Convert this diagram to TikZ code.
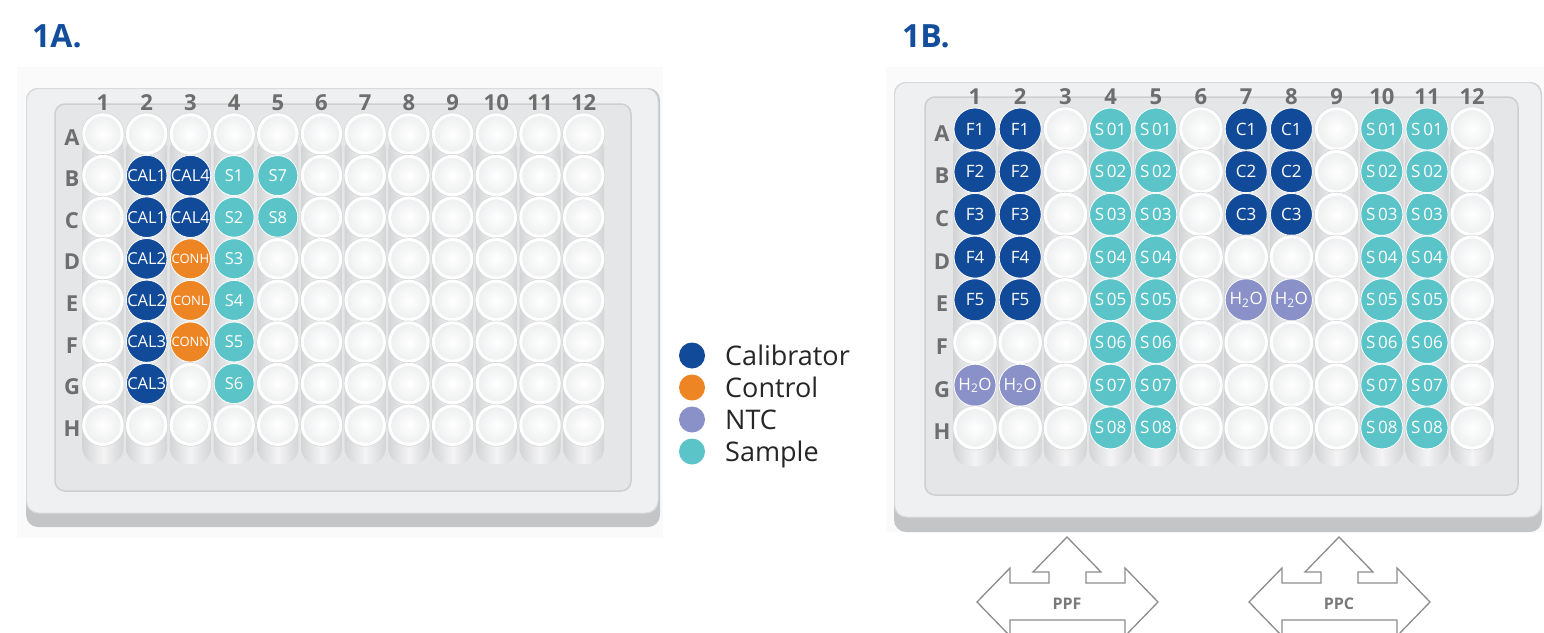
\documentclass[tikz,border=0pt]{standalone}
\usepackage{fontspec}
\setmainfont{Open Sans}
\definecolor{calc}{HTML}{114A98}
\definecolor{conc}{HTML}{EE8524}
\definecolor{ntcc}{HTML}{8A91C8}
\definecolor{smpc}{HTML}{5BC4C8}
\definecolor{titlec}{HTML}{134E9C}
\definecolor{numc}{HTML}{6E6E6E}
\definecolor{imgbg}{HTML}{FAFAFA}
\definecolor{platebase}{HTML}{C4C5C7}
\definecolor{platetop}{HTML}{EFF0F1}
\definecolor{platerim}{HTML}{D9DADC}
\definecolor{trayc}{HTML}{E4E6E8}
\definecolor{trayedge}{HTML}{CDCFD2}
\definecolor{stripmid}{HTML}{F4F4F5}
\definecolor{stripedge}{HTML}{D3D4D6}
\definecolor{wellout}{HTML}{EDEEEF}
\definecolor{wellrim}{HTML}{D6D7D9}
\definecolor{arrowc}{HTML}{8C8C8C}
\definecolor{ppc}{HTML}{7A7A7A}
\newcommand\wellset[5]{\expandafter\gdef\csname wc@#1@#2@#3\endcsname{#4}\expandafter\gdef\csname wt@#1@#2@#3\endcsname{#5}}
\newcommand\confont{\fontsize{13}{13}\selectfont}
% plate 1A contents
\wellset{a}{2}{2}{calc}{CAL1}\wellset{a}{2}{3}{calc}{CAL1}
\wellset{a}{2}{4}{calc}{CAL2}\wellset{a}{2}{5}{calc}{CAL2}
\wellset{a}{2}{6}{calc}{CAL3}\wellset{a}{2}{7}{calc}{CAL3}
\wellset{a}{3}{2}{calc}{CAL4}\wellset{a}{3}{3}{calc}{CAL4}
\wellset{a}{3}{4}{conc}{\confont CONH}\wellset{a}{3}{5}{conc}{\confont CONL}
\wellset{a}{3}{6}{conc}{\confont CONN}
\wellset{a}{4}{2}{smpc}{S1}\wellset{a}{4}{3}{smpc}{S2}\wellset{a}{4}{4}{smpc}{S3}
\wellset{a}{4}{5}{smpc}{S4}\wellset{a}{4}{6}{smpc}{S5}\wellset{a}{4}{7}{smpc}{S6}
\wellset{a}{5}{2}{smpc}{S7}\wellset{a}{5}{3}{smpc}{S8}
% plate 1B contents
\wellset{b}{1}{1}{calc}{F1}\wellset{b}{1}{2}{calc}{F2}\wellset{b}{1}{3}{calc}{F3}
\wellset{b}{1}{4}{calc}{F4}\wellset{b}{1}{5}{calc}{F5}
\wellset{b}{2}{1}{calc}{F1}\wellset{b}{2}{2}{calc}{F2}\wellset{b}{2}{3}{calc}{F3}
\wellset{b}{2}{4}{calc}{F4}\wellset{b}{2}{5}{calc}{F5}
\wellset{b}{1}{7}{ntcc}{H\textsubscript{2}O}\wellset{b}{2}{7}{ntcc}{H\textsubscript{2}O}
\wellset{b}{7}{1}{calc}{C1}\wellset{b}{7}{2}{calc}{C2}\wellset{b}{7}{3}{calc}{C3}
\wellset{b}{8}{1}{calc}{C1}\wellset{b}{8}{2}{calc}{C2}\wellset{b}{8}{3}{calc}{C3}
\wellset{b}{7}{5}{ntcc}{H\textsubscript{2}O}\wellset{b}{8}{5}{ntcc}{H\textsubscript{2}O}
\foreach \cc in {4,5,10,11}{\foreach \rr in {1,...,8}{\edef\tmp{\noexpand\wellset{b}{\cc}{\rr}{smpc}{S\noexpand\,0\rr}}\tmp}}
\begin{document}
\begin{tikzpicture}[x=1pt,y=-1pt,
  title/.style={font=\bfseries\fontsize{32}{32}\selectfont, text=titlec, inner sep=0, anchor=base west},
  numlab/.style={font=\bfseries\fontsize{22}{22}\selectfont, text=numc, inner sep=0, anchor=base},
  rowlab/.style={font=\bfseries\fontsize{22}{22}\selectfont, text=numc, inner sep=0, anchor=base},
  fullwell/.style={circle, inner sep=0, draw=white, line width=0.8pt, text=white, font=\fontsize{16.5}{16.5}\selectfont},
  emptywell/.style={circle, inner sep=0, draw=white, line width=3pt, inner color=white, outer color=wellout, preaction={draw=wellrim, line width=4.4pt}},
  legdot/.style={circle, minimum size=26pt, inner sep=0},
  legtxt/.style={font=\fontsize{27}{27}\selectfont, inner sep=0, anchor=base west, text=black!85},
  arrowshape/.style={draw=arrowc, line width=1.3pt, fill=white, line join=miter},
  arrowtxt/.style={font=\bfseries\fontsize{16}{16}\selectfont, text=ppc, inner sep=0},
  strip/.style={left color=stripedge, right color=stripedge, middle color=stripmid, rounded corners=16pt}
]
\useasboundingbox (0,0) rectangle (1544,632);
\fill[white] (0,0) rectangle (1544,632);

% ---------- titles
\node[title] (t1a) at (32,47) {1A.};
\node[title] (t1b) at (902,47) {1B.};

% ---------- plate 1A
\fill[imgbg] (17,67) rectangle (663,538);
\fill[platebase, rounded corners=12pt] (26,88) rectangle (660,527);
\filldraw[fill=platetop, draw=platerim, line width=1pt, rounded corners=12pt] (26.5,88.5) rectangle (658,513);
\filldraw[fill=trayc, draw=trayedge, line width=1.5pt, rounded corners=10pt] (55,104) rectangle (631,491);
\foreach \ci in {1,...,12}{
  \pgfmathsetmacro\xx{103+43.7*(\ci-1)}
  \shade[strip] ({\xx-20.5},134) rectangle ({\xx+20.5},464);
  \node[numlab] (a-n\ci) at (\xx,110) {\ci};
}
\foreach \ri/\rl in {1/A,2/B,3/C,4/D,5/E,6/F,7/G,8/H}{
  \pgfmathsetmacro\yy{134+41.6*(\ri-1)}
  \node[rowlab] (a-r\rl) at (72,{\yy+11}) {\rl};
  \foreach \ci in {1,...,12}{
    \pgfmathsetmacro\xx{103+43.7*(\ci-1)}
    \ifcsname wc@a@\ci @\ri\endcsname
      \expandafter\let\expandafter\wcol\csname wc@a@\ci @\ri\endcsname
      \expandafter\let\expandafter\wtxt\csname wt@a@\ci @\ri\endcsname
      \node[fullwell, minimum size=40pt, fill=\wcol] (a-\rl\ci) at (\xx,\yy) {\wtxt};
    \else
      \node[emptywell, minimum size=38.5pt] (a-\rl\ci) at (\xx,\yy) {};
    \fi
  }
}

% ---------- legend
\node[legdot, fill=calc] (lg-cal) at (692,355.5) {};
\node[legdot, fill=conc] (lg-con) at (692,387.5) {};
\node[legdot, fill=ntcc] (lg-ntc) at (692,419.5) {};
\node[legdot, fill=smpc] (lg-smp) at (692,451.5) {};
\node[legtxt] (lt-cal) at (725,365) {Calibrator};
\node[legtxt] (lt-con) at (725,397) {Control};
\node[legtxt] (lt-ntc) at (725,429) {NTC};
\node[legtxt] (lt-smp) at (725,461) {Sample};

% ---------- plate 1B
\fill[imgbg] (886,67) rectangle (1550,532);
\fill[platebase, rounded corners=12pt] (894,82) rectangle (1542,532);
\filldraw[fill=platetop, draw=platerim, line width=1pt, rounded corners=12pt] (894.5,82.5) rectangle (1541,517);
\filldraw[fill=trayc, draw=trayedge, line width=1.5pt, rounded corners=10pt] (925,97) rectangle (1518,495);
\foreach \ci in {1,...,12}{
  \pgfmathsetmacro\xx{975+45.2*(\ci-1)}
  \shade[strip] ({\xx-21.5},129) rectangle ({\xx+21.5},466);
  \node[numlab] (b-n\ci) at (\xx,104) {\ci};
}
\foreach \ri/\rl in {1/A,2/B,3/C,4/D,5/E,6/F,7/G,8/H}{
  \pgfmathsetmacro\yy{129+42.7*(\ri-1)}
  \node[rowlab] (b-r\rl) at (942,{\yy+12}) {\rl};
  \foreach \ci in {1,...,12}{
    \pgfmathsetmacro\xx{975+45.2*(\ci-1)}
    \ifcsname wc@b@\ci @\ri\endcsname
      \expandafter\let\expandafter\wcol\csname wc@b@\ci @\ri\endcsname
      \expandafter\let\expandafter\wtxt\csname wt@b@\ci @\ri\endcsname
      \node[fullwell, minimum size=42pt, fill=\wcol, font=\fontsize{17}{17}\selectfont] (b-\rl\ci) at (\xx,\yy) {\wtxt};
    \else
      \node[emptywell, minimum size=40.5pt] (b-\rl\ci) at (\xx,\yy) {};
    \fi
  }
}

% ---------- arrows
\begin{scope}[shift={(1067,602)}]
  \draw[arrowshape] (-90,0) -- (-57,-34) -- (-57,-19) -- (-18,-19) -- (-18,-30) -- (-34,-30) -- (0,-65) -- (34,-30) -- (19,-30) -- (19,-19) -- (58,-19) -- (58,-34) -- (91,0) -- (58,34) -- (58,18) -- (-57,18) -- (-57,34) -- cycle;
  \node[arrowtxt] (ppf) at (0,2) {PPF};
\end{scope}
\begin{scope}[shift={(1339,602)}]
  \draw[arrowshape] (-90,0) -- (-57,-34) -- (-57,-19) -- (-18,-19) -- (-18,-30) -- (-34,-30) -- (0,-65) -- (34,-30) -- (19,-30) -- (19,-19) -- (58,-19) -- (58,-34) -- (91,0) -- (58,34) -- (58,18) -- (-57,18) -- (-57,34) -- cycle;
  \node[arrowtxt] (ppc) at (0,2) {PPC};
\end{scope}
\end{tikzpicture}
\end{document}
